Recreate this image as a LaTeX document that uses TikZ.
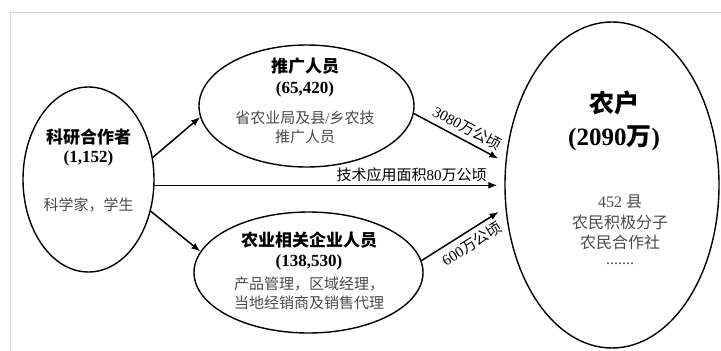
\documentclass[tikz,border=0pt]{standalone}
\usepackage{fontspec}
\setmainfont{Liberation Serif}
\newfontfamily\cjk{Noto Sans CJK SC}
\usetikzlibrary{arrows.meta,shapes.geometric,calc}
\definecolor{bodygray}{HTML}{4A4A4A}
\definecolor{framegray}{HTML}{D4D4D4}
\tikzset{
  ell/.style={ellipse, draw=black, line width=1.4pt, inner sep=0pt},
  ttl/.style={font=\fontsize{17}{19}\selectfont\bfseries, text=black, inner sep=0pt},
  bigttl/.style={font=\fontsize{25}{27}\selectfont\bfseries, text=black, inner sep=0pt},
  bodytxt/.style={font=\fontsize{15}{17}\selectfont, text=bodygray, inner sep=0pt},
  rbodytxt/.style={font=\fontsize{16}{18}\selectfont, text=bodygray, inner sep=0pt},
  arr/.style={line width=1.5pt, -{Latex[length=9pt,width=7pt]}},
  elab/.style={font=\fontsize{15}{17}\selectfont, text=black, inner sep=3pt},
  slab/.style={font=\fontsize{15}{17}\selectfont, text=black, inner sep=5pt}
}
\begin{document}
\begin{tikzpicture}[x=1pt,y=-1pt]
\useasboundingbox (0,0) rectangle (721,351);
\fill[white] (0,0) rectangle (721,351);
\draw[framegray, line width=0.8pt] (10,12) -- (721,12);
\draw[framegray, line width=0.8pt] (10,12) -- (10,351);

% ellipses
\node[ell, minimum width=131pt, minimum height=185pt] (L) at (88.5,179.5) {};
\node[ell, minimum width=215pt, minimum height=122pt] (T) at (306.5,106) {};
\node[ell, minimum width=229pt, minimum height=121pt] (B) at (308.5,272.5) {};
\node[ell, minimum width=214pt, minimum height=326pt] (R) at (612,185) {};

% left texts
\node[ttl] (Lt) at (88.5,137) {\cjk\bfseries 科研合作者};
\node[ttl] (Ln) at (88.5,158) {(1,152)};
\node[bodytxt] (Lb) at (88.5,205) {\cjk 科学家，学生};

% top texts
\node[ttl] (Tt) at (305,66) {\cjk\bfseries 推广人员};
\node[ttl] (Tn) at (305,89) {(65,420)};
\node[bodytxt] (Tb1) at (305,118) {{\cjk 省农业局及县}/{\cjk 乡农技}};
\node[bodytxt] (Tb2) at (305,137) {\cjk 推广人员};

% bottom texts
\node[ttl] (Bt) at (309,240) {\cjk\bfseries 农业相关企业人员};
\node[ttl] (Bn) at (309,262) {(138,530)};
\node[bodytxt] (Bb1) at (309,284) {\cjk 产品管理，区域经理，};
\node[bodytxt] (Bb2) at (309,303) {\cjk 当地经销商及销售代理};

% right texts
\node[bigttl] (Rt) at (614,103) {\cjk\bfseries 农户};
\node[bigttl] (Rn) at (614,138) {(2090{\cjk\bfseries 万})};
\node[rbodytxt] (Rb1) at (620,202) {452 {\cjk 县}};
\node[rbodytxt] (Rb2) at (620,222) {\cjk 农民积极分子};
\node[rbodytxt] (Rb3) at (620,242) {\cjk 农民合作社};
\node[rbodytxt] (Rb4) at (620,264) {.......};

% connectors
\draw[arr] (L.19.5) -- (T.186.4);
\draw[arr] (L.-27.9) -- (B.169);
\draw[arr, shorten >=7pt] (L.-5.7) -- (L.-5.7 -| R.west)
  node[elab, pos=0.735, above] (mlab) {{\cjk 技术应用面积}80{\cjk 万公顷}};
\draw[arr, shorten >=8pt] (T.-4) -- (R.168)
  node[slab, pos=0.52, above, sloped] (tlab) {3080{\cjk 万公顷}};
\draw[arr, shorten >=8pt] (B.6.4) -- (R.192)
  node[slab, pos=0.52, below, sloped] (blab) {600{\cjk 万公顷}};
\end{tikzpicture}
\end{document}
